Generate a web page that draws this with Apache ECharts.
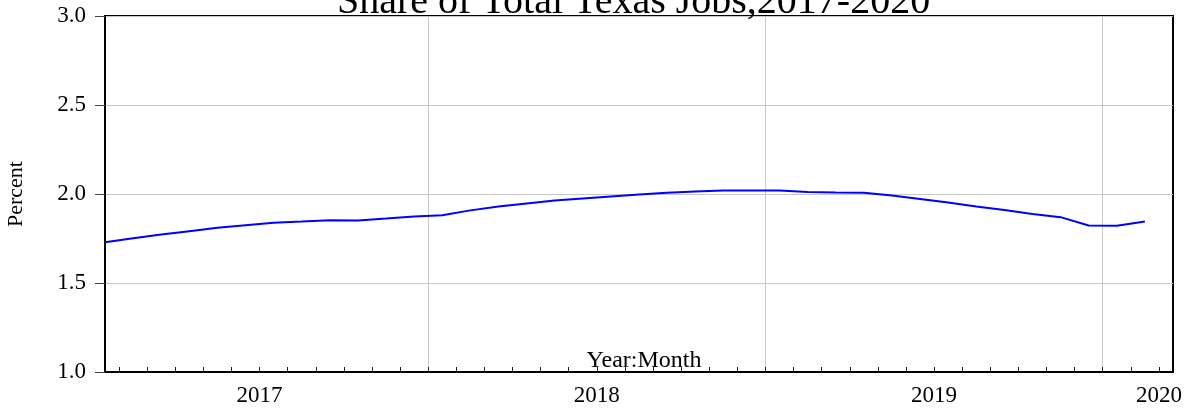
<!DOCTYPE html>
<html>
<head>
<meta charset="utf-8">
<script src="https://cdn.jsdelivr.net/npm/echarts@6/dist/echarts.min.js"></script>
<style>
  html, body { margin: 0; padding: 0; background: #fff; }
  #main { width: 1184px; height: 409px; }
</style>
</head>
<body>
<div id="main"></div>
<script>
  // monthly share of Texas jobs, Jan 2017 .. Feb 2020 (percent)
  const shareValues = [
    1.729, 1.751, 1.772, 1.791, 1.810, 1.824, 1.838, 1.845, 1.853, 1.851, 1.862, 1.874,
    1.881, 1.908, 1.930, 1.947, 1.963, 1.975, 1.986, 1.997, 2.007, 2.014, 2.020, 2.020,
    2.020, 2.011, 2.008, 2.007, 1.992, 1.972, 1.952, 1.930, 1.910, 1.888, 1.870, 1.823,
    1.821, 1.845
  ];
  const years = ['2017', '2018', '2019', '2020'];
  const yearLabels = ['2017', '2018', '2019', '2020'];
  const yTicks = [1.0, 1.5, 2.0, 2.5, 3.0];

  // observation months (axis runs Jan 2017 .. Mar 2020)
  let months = [];
  years.forEach(y => {
    for (let m = 1; m <= 12; m++) {
      if (y === '2020' && m > 3) break;
      months.push(y + 'M' + (m < 10 ? '0' + m : m));
    }
  });
  // month boundaries between observations (Feb 1 2017 .. Mar 1 2020)
  let bounds = months.slice(1);
  // year label sits mid-year (July boundary), 2020 at the last boundary
  function yearLabelFor(b, i) {
    let y = b.slice(0, 4);
    if (b.slice(5) === '07') return yearLabels[years.indexOf(y)];
    if (i === bounds.length - 1) return yearLabels[years.indexOf(y)];
    return '';
  }

  const font = 'Liberation Serif';
  let chart = echarts.init(document.getElementById('main'));
  chart.setOption({
    animation: false,
    title: {
      text: 'Share of Total Texas Jobs,2017-2020',
      left: 332,
      top: -23,
      textStyle: { fontFamily: font, fontSize: 40, fontWeight: 'normal', color: '#000' }
    },
    grid: {
      left: 105, right: 11, top: 16, bottom: 37,
      outerBoundsMode: 'none',
      containLabel: false,
      show: true, borderColor: '#000', borderWidth: 2
    },
    xAxis: [
      {
        type: 'category',
        data: months,
        boundaryGap: false,
        position: 'bottom',
        show: false
      },
      {
        type: 'category',
        data: bounds,
        boundaryGap: true,
        position: 'bottom',
        name: 'Year:Month',
        nameLocation: 'middle',
        nameGap: -23,
        nameMoveOverlap: false,
        nameTextStyle: { fontFamily: font, fontSize: 24, color: '#000', padding: [0, 0, 0, 10] },
        axisLine: { onZero: false, lineStyle: { color: '#000', width: 2 } },
        axisTick: { show: true, inside: true, length: 5, interval: 0, alignWithLabel: true, lineStyle: { color: '#222' } },
        axisLabel: {
          interval: 0,
          margin: 12,
          fontFamily: font, fontSize: 23, color: '#000',
          formatter: (v, i) => yearLabelFor(v, i)
        },
        splitLine: {
          show: true,
          alignWithLabel: true,
          interval: (i, v) => v.slice(5) === '01',
          lineStyle: { color: '#c8c8c8', width: 1 }
        }
      }
    ],
    yAxis: {
      type: 'value',
      min: yTicks[0],
      max: yTicks[yTicks.length - 1],
      interval: 0.5,
      name: 'Percent',
      nameLocation: 'middle',
      nameGap: 78,
      nameMoveOverlap: false,
      nameTextStyle: { fontFamily: font, fontSize: 22, color: '#000' },
      axisLine: { show: true, lineStyle: { color: '#000', width: 2 } },
      axisTick: { show: true, length: 10, lineStyle: { color: '#444' } },
      axisLabel: {
        margin: 19,
        fontFamily: font, fontSize: 23, color: '#000',
        formatter: v => v.toFixed(1)
      },
      splitLine: { show: true, lineStyle: { color: '#c8c8c8', width: 1 } }
    },
    series: [{
      type: 'line',
      xAxisIndex: 0,
      data: shareValues,
      showSymbol: false,
      lineStyle: { color: '#0000ff', width: 2 },
      z: 5
    }]
  });
</script>
</body>
</html>
